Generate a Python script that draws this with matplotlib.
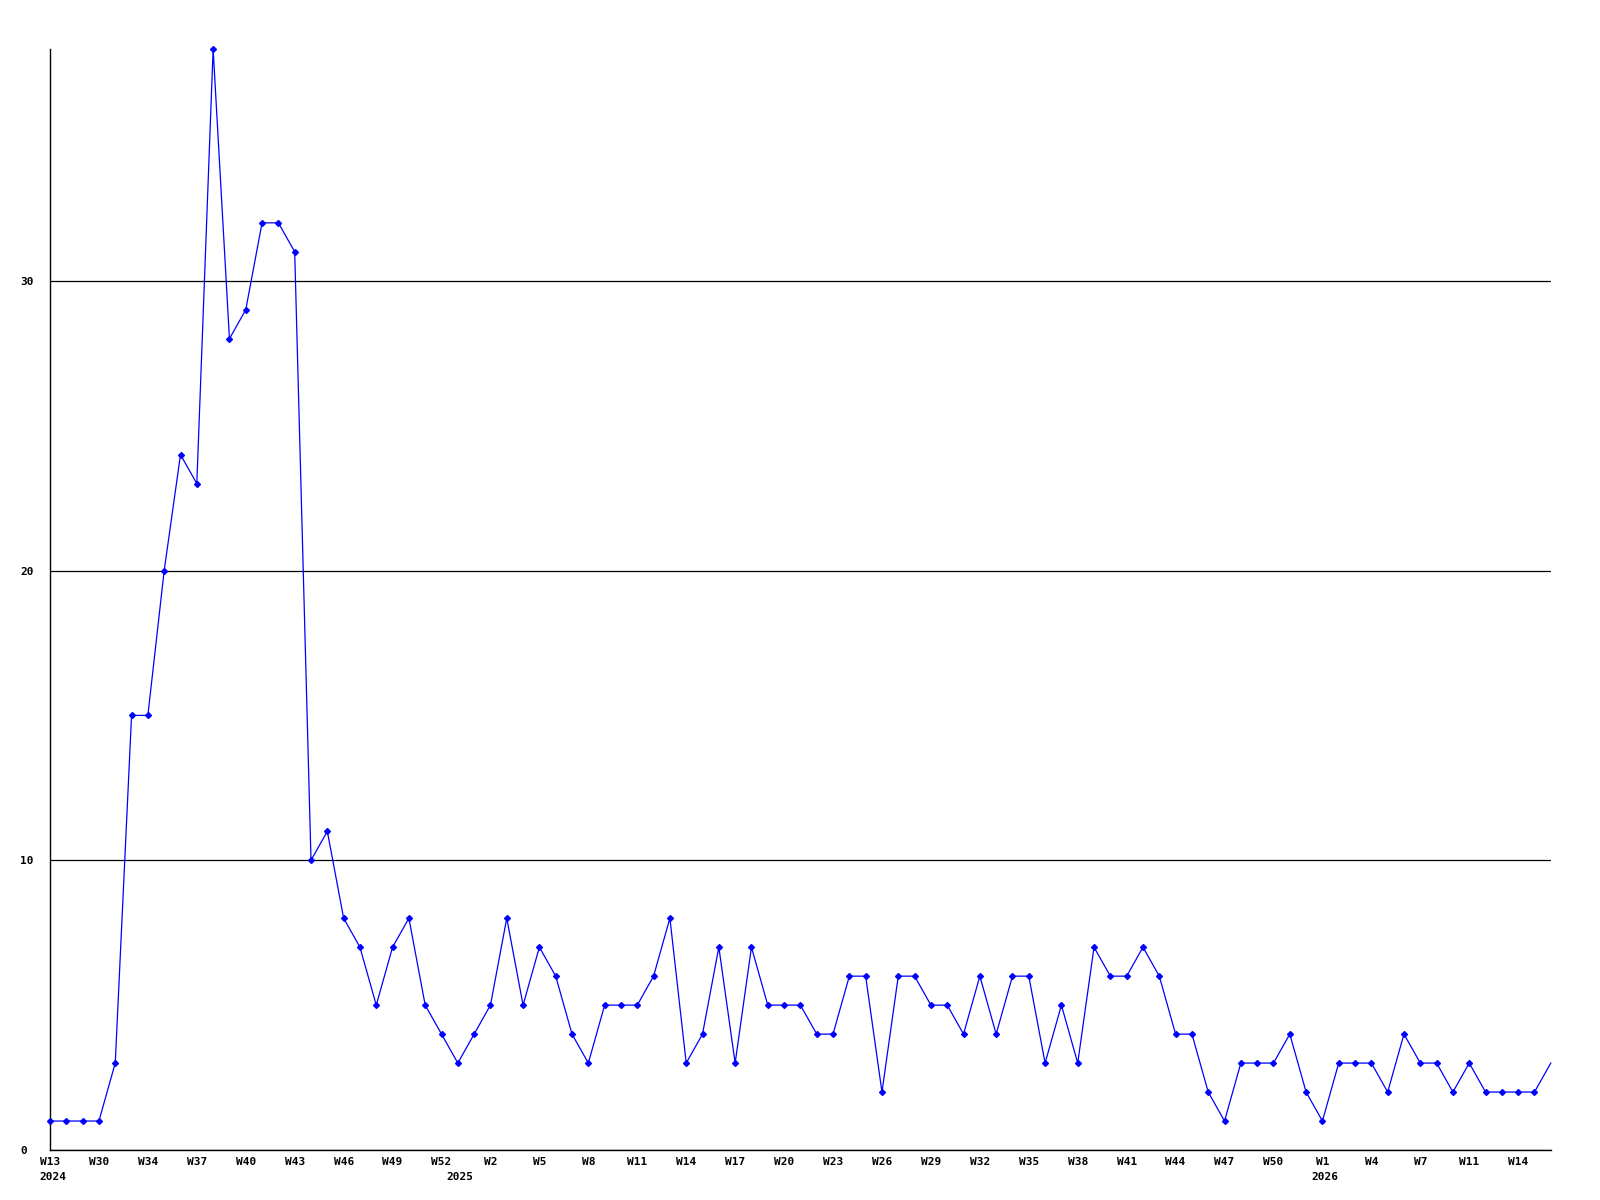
#!/usr/bin/env python3
"""
Weekly count chart, 2024 W13 - 2026 W15
Output: out.png (1600x1200)
"""

import matplotlib.pyplot as plt
import numpy as np

plt.rcParams['font.family'] = 'DejaVu Sans Mono'
plt.rcParams['font.weight'] = 'bold'
plt.rcParams['font.size'] = 8

# Weekly values, one per point
counts = [1, 1, 1, 1, 3, 15, 15, 20, 24, 23,
          38, 28, 29, 32, 32, 31, 10, 11, 8, 7,
          5, 7, 8, 5, 4, 3, 4, 5, 8, 5,
          7, 6, 4, 3, 5, 5, 5, 6, 8, 3,
          4, 7, 3, 7, 5, 5, 5, 4, 4, 6,
          6, 2, 6, 6, 5, 5, 4, 6, 4, 6,
          6, 3, 5, 3, 7, 6, 6, 7, 6, 4,
          4, 2, 1, 3, 3, 3, 4, 2, 1, 3,
          3, 3, 2, 4, 3, 3, 2, 3, 2, 2,
          2, 2, 3]

# Week labels shown on every third point
week_labels = ['W13', 'W30', 'W34', 'W37', 'W40', 'W43', 'W46', 'W49', 'W52',
               'W2', 'W5', 'W8', 'W11', 'W14', 'W17', 'W20', 'W23', 'W26',
               'W29', 'W32', 'W35', 'W38', 'W41', 'W44', 'W47', 'W50',
               'W1', 'W4', 'W7', 'W11', 'W14']
label_step = 3

# Year labels and the point where each year starts
years = ['2024', '2025', '2026']
year_starts = [0, 25, 78]

y_ticks = [0, 10, 20, 30]


def main():
    fig = plt.figure(figsize=(16, 12), dpi=100)
    ax = fig.add_axes([0.03125, 0.04167, 0.9380, 0.9175])

    x = np.arange(len(counts))
    ax.plot(x, counts, color='#0000ff', linewidth=0.9, marker='D',
            markersize=3, markevery=list(range(len(counts) - 1)),
            clip_on=False, zorder=3)

    ax.set_xlim(0, len(counts) - 1)
    ax.set_ylim(0, 38)

    # Spines: only left and bottom
    for side in ['top', 'right']:
        ax.spines[side].set_visible(False)
    for side in ['left', 'bottom']:
        ax.spines[side].set_color('black')
        ax.spines[side].set_linewidth(1.0)

    # Horizontal grid lines
    ax.set_yticks(y_ticks)
    ax.set_yticklabels([str(t) for t in y_ticks])
    ax.yaxis.grid(True, color='black', linewidth=0.9)
    ax.xaxis.grid(False)
    ax.set_axisbelow(True)
    ax.tick_params(axis='y', length=0, pad=21.5)
    for lbl in ax.get_yticklabels():
        lbl.set_horizontalalignment('left')

    ax.set_xticks(np.arange(len(week_labels)) * label_step)
    ax.set_xticklabels(week_labels)
    ax.tick_params(axis='x', length=0, pad=5)

    for year, start in zip(years, year_starts):
        ax.annotate(year, xy=(start, 0), xycoords=('data', 'axes fraction'),
                    xytext=(-8, -16), textcoords='offset points',
                    ha='left', va='top', fontsize=8, fontweight='bold')

    fig.savefig('out.png', dpi=100, facecolor='white')
    plt.close(fig)


if __name__ == '__main__':
    main()
